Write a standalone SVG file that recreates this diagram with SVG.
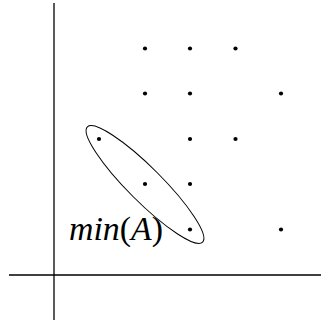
<svg xmlns="http://www.w3.org/2000/svg" width="321" height="322" viewBox="0 0 321 322">
<style>
.axis{stroke:#000;stroke-width:1.3;fill:none}
.dot{fill:#000}
.ell{stroke:#000;stroke-width:1;fill:none}
.lbl{font-family:"Liberation Serif",serif;font-size:34px;fill:#000}
</style>
<rect width="321" height="322" fill="#fff"/>
<g id="axes">
<line class="axis" x1="54" y1="3" x2="54" y2="320"/>
<line class="axis" x1="9" y1="275" x2="321" y2="275"/>
</g>
<g id="dots">
<circle class="dot" cx="145" cy="48.5" r="2.1"/>
<circle class="dot" cx="190" cy="48.5" r="2.1"/>
<circle class="dot" cx="235.5" cy="48.5" r="2.1"/>
<circle class="dot" cx="145" cy="93.5" r="2.1"/>
<circle class="dot" cx="190" cy="93.5" r="2.1"/>
<circle class="dot" cx="281" cy="93.5" r="2.1"/>
<circle class="dot" cx="99" cy="139" r="2.1"/>
<circle class="dot" cx="190" cy="139" r="2.1"/>
<circle class="dot" cx="235.5" cy="139" r="2.1"/>
<circle class="dot" cx="145" cy="184" r="2.1"/>
<circle class="dot" cx="190" cy="184" r="2.1"/>
<circle class="dot" cx="190" cy="229.5" r="2.1"/>
<circle class="dot" cx="281" cy="229.5" r="2.1"/>
</g>
<g id="minA">
<ellipse class="ell" cx="145" cy="184.5" rx="81.5" ry="17" transform="rotate(45 145 184.5)"/>
<text class="lbl" x="69" y="240" textLength="94" lengthAdjust="spacingAndGlyphs"><tspan font-style="italic">min</tspan>(<tspan font-style="italic">A</tspan>)</text>
</g>
</svg>
